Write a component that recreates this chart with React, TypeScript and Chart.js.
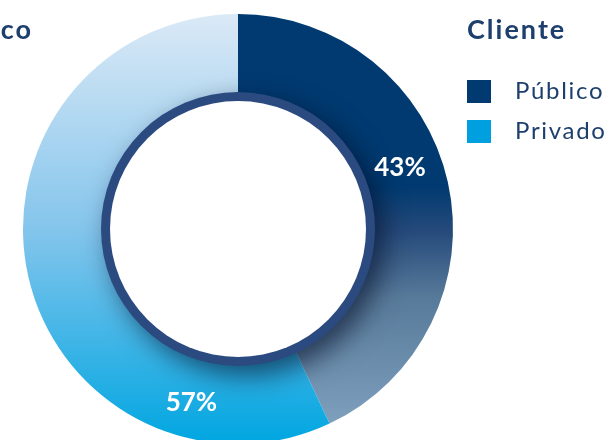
import React, { useEffect, useRef } from "react";
import { Chart, registerables } from "chart.js";

Chart.register(...registerables);

const categories = ["Público", "Privado"];
const values = [43, 57];
const legendTitle = "Cliente";
const chartTitle = "Público";
const legendColors = ["#003a70", "#00a0e0"];
const valueLabels = ["43%", "57%"];

const W = 609;
const H = 460;

export default function App() {
  const ref = useRef<HTMLCanvasElement>(null);

  useEffect(() => {
    const canvas = ref.current;
    if (!canvas) return;

    const gradFor = (chart: any, idx: number) => {
      const area = chart.chartArea;
      if (!area) return legendColors[idx];
      const g = chart.ctx.createLinearGradient(0, area.top, 0, area.bottom);
      if (idx === 0) {
        g.addColorStop(0, "#003a70");
        g.addColorStop(0.4, "#003a70");
        g.addColorStop(0.5, "#24497a");
        g.addColorStop(0.66, "#587a9a");
        g.addColorStop(1, "#84a6c3");
      } else {
        g.addColorStop(0, "#dbe9f6");
        g.addColorStop(0.5, "#84c5ec");
        g.addColorStop(1, "#00a6e1");
      }
      return g;
    };

    const ringPlugin = {
      id: "ringAndLabels",
      afterDatasetsDraw(chart: any) {
        const meta = chart.getDatasetMeta(0);
        const first = meta.data[0] as any;
        if (!first) return;
        const { x, y, outerRadius } = first;
        const ctx = chart.ctx;
        const ringR = (outerRadius * 137) / 215;
        const holeR = (outerRadius * 128) / 215;

        ctx.save();
        ctx.shadowColor = "rgba(0,10,35,0.6)";
        ctx.shadowBlur = 26;
        ctx.shadowOffsetX = 9;
        ctx.shadowOffsetY = 10;
        ctx.beginPath();
        ctx.arc(x, y, ringR, 0, Math.PI * 2);
        ctx.fillStyle = "#2b4a80";
        ctx.fill();
        ctx.restore();

        ctx.save();
        ctx.beginPath();
        ctx.arc(x, y, holeR, 0, Math.PI * 2);
        ctx.fillStyle = "#ffffff";
        ctx.fill();
        ctx.restore();

        const fracs = [0.448, 0.196];
        const radii = [0.805, 0.837];
        ctx.save();
        ctx.fillStyle = "#ffffff";
        ctx.font = "bold 26px Lato";
        ctx.textAlign = "center";
        ctx.textBaseline = "middle";
        meta.data.forEach((el: any, i: number) => {
          const a = el.startAngle + fracs[i] * (el.endAngle - el.startAngle);
          const r = el.outerRadius * radii[i];
          ctx.fillText(valueLabels[i], el.x + r * Math.cos(a), el.y + r * Math.sin(a));
        });
        ctx.restore();
      },
    };

    const chart = new Chart(canvas, {
      type: "doughnut",
      data: {
        labels: categories,
        datasets: [
          {
            data: values,
            backgroundColor: (c: any) => gradFor(c.chart, c.dataIndex),
            borderWidth: 0,
            hoverOffset: 0,
          },
        ],
      },
      options: {
        responsive: false,
        animation: false,
        cutout: "60%",
        layout: { padding: { top: 14, left: 23, right: 156, bottom: 16 } },
        plugins: {
          legend: { display: false },
          tooltip: { enabled: false },
        },
      },
      plugins: [ringPlugin],
    });
    return () => chart.destroy();
  }, []);

  const navy = "#1d3f6e";
  return (
    <div
      style={{
        position: "absolute",
        left: 0,
        top: 0,
        width: W,
        height: 440,
        overflow: "hidden",
        background: "#ffffff",
        fontFamily: "Lato, sans-serif",
      }}
    >
      <canvas ref={ref} width={W} height={H} style={{ width: W, height: H, display: "block" }} />
      <div
        style={{
          position: "absolute",
          left: -200,
          width: 233,
          top: 15,
          textAlign: "right",
          fontSize: 27,
          lineHeight: "27px",
          fontWeight: 700,
          letterSpacing: 2,
          color: navy,
          whiteSpace: "nowrap",
        }}
      >
        {chartTitle}
      </div>
      <div
        style={{
          position: "absolute",
          left: 467,
          top: 15,
          fontSize: 27,
          lineHeight: "27px",
          fontWeight: 700,
          letterSpacing: 2,
          color: navy,
          whiteSpace: "nowrap",
        }}
      >
        {legendTitle}
      </div>
      {categories.map((c, i) => (
        <div key={c}>
          <div
            style={{
              position: "absolute",
              left: 467,
              top: 80 + i * 40,
              width: 24,
              height: 23,
              background: legendColors[i],
            }}
          />
          <div
            style={{
              position: "absolute",
              left: 515,
              top: 78 + i * 40,
              fontSize: 24,
              lineHeight: "24px",
              letterSpacing: 1.7,
              color: navy,
              whiteSpace: "nowrap",
            }}
          >
            {c}
          </div>
        </div>
      ))}
    </div>
  );
}
